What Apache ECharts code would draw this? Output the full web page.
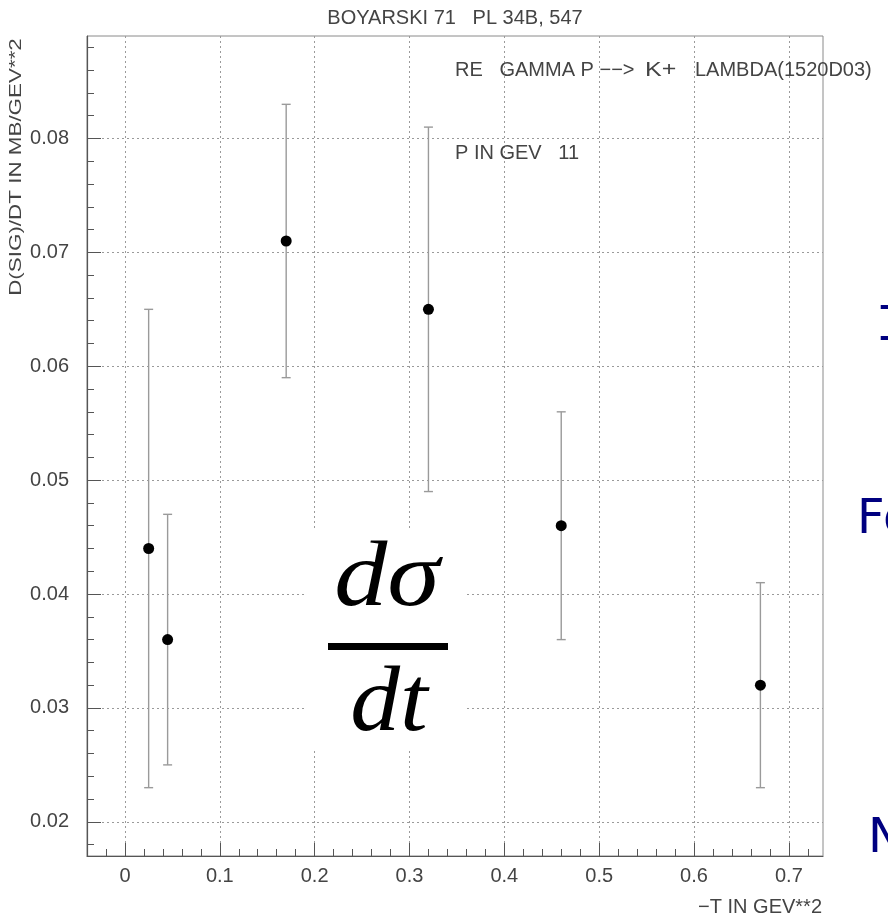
<!DOCTYPE html>
<html>
<head>
<meta charset="utf-8">
<script src="https://cdn.jsdelivr.net/npm/echarts@6/dist/echarts.min.js"></script>
<style>
  html, body { margin: 0; padding: 0; background: #fff; }
  #chart { width: 888px; height: 922px; }
</style>
</head>
<body>
<div id="chart"></div>
<script>
// Measured points: -t (GeV^2), dsigma/dt (mb/GeV^2) and its error
const tValues = [0.025, 0.045, 0.17, 0.32, 0.46, 0.67];
const dsdt    = [0.044, 0.036, 0.071, 0.065, 0.046, 0.032];
const dsdtErr = [0.021, 0.011, 0.012, 0.016, 0.010, 0.009];

// Labelled ticks
const xTickLabels = [0, 0.1, 0.2, 0.3, 0.4, 0.5, 0.6, 0.7];
const yTickLabels = [0.02, 0.03, 0.04, 0.05, 0.06, 0.07, 0.08];

const X_MIN = -0.04, X_MAX = 0.736;
const Y_MIN = 0.017, Y_MAX = 0.089;

// Small ticks between the labelled ones
const xMinor = [];
for (let i = -2; i <= 36; i++) xMinor.push(+(i * 0.02).toFixed(3));
const yMinor = [];
for (let i = 9; i <= 44; i++) yMinor.push(+(i * 0.002).toFixed(3));

const AXIS_FONT = '"Liberation Sans", Arial, sans-serif';
const TEXT_COLOR = '#444';

const points = tValues.map((t, i) => [t, dsdt[i]]);
const bars = tValues.map((t, i) => [t, +(dsdt[i] - dsdtErr[i]).toFixed(4), +(dsdt[i] + dsdtErr[i]).toFixed(4)]);

const fmt = v => (Math.abs(v) < 1e-9 ? '0' : String(+v.toFixed(3)));

function label(text, x, y, size, align, extra) {
  return Object.assign({
    type: 'text', x: x, y: y, z: 5,
    style: {
      text: text, fill: TEXT_COLOR,
      font: size + 'px ' + AXIS_FONT,
      textAlign: align, textVerticalAlign: 'middle'
    }
  }, extra || {});
}

const chart = echarts.init(document.getElementById('chart'), null, { renderer: 'canvas' });

chart.setOption({
  animation: false,
  backgroundColor: '#fff',
  grid: {
    left: 87, right: 65, top: 36, bottom: 66,
    show: true, borderColor: '#8a8a8a', borderWidth: 1, backgroundColor: 'transparent'
  },
  xAxis: [
    {
      type: 'value', min: X_MIN, max: X_MAX, position: 'bottom',
      axisLine: { show: true, onZero: false, lineStyle: { color: '#555', width: 1.2 } },
      axisTick: { show: true, inside: true, length: 13, customValues: xTickLabels, lineStyle: { color: '#555' } },
      axisLabel: {
        show: true, customValues: xTickLabels, margin: 10, formatter: fmt,
        color: TEXT_COLOR, fontSize: 20, fontFamily: AXIS_FONT
      },
      splitLine: { show: true, lineStyle: { color: '#9a9a9a', type: [2, 3], width: 1 } }
    },
    {
      type: 'value', min: X_MIN, max: X_MAX, position: 'bottom', offset: 0,
      axisLine: { show: false, onZero: false },
      axisTick: { show: true, inside: true, length: 7, customValues: xMinor, lineStyle: { color: '#555' } },
      axisLabel: { show: false },
      splitLine: { show: false }
    }
  ],
  yAxis: [
    {
      type: 'value', min: Y_MIN, max: Y_MAX, position: 'left',
      axisLine: { show: true, onZero: false, lineStyle: { color: '#555', width: 1.2 } },
      axisTick: { show: true, inside: true, length: 14, customValues: yTickLabels, lineStyle: { color: '#555' } },
      axisLabel: {
        show: true, customValues: yTickLabels, margin: 18, formatter: fmt,
        color: TEXT_COLOR, fontSize: 20, fontFamily: AXIS_FONT
      },
      splitLine: { show: true, lineStyle: { color: '#9a9a9a', type: [2, 3], width: 1 } }
    },
    {
      type: 'value', min: Y_MIN, max: Y_MAX, position: 'left', offset: 0,
      axisLine: { show: false, onZero: false },
      axisTick: { show: true, inside: true, length: 7, customValues: yMinor, lineStyle: { color: '#555' } },
      axisLabel: { show: false },
      splitLine: { show: false }
    }
  ],
  series: [
    {
      name: 'error',
      type: 'custom',
      xAxisIndex: 0, yAxisIndex: 0,
      data: bars,
      encode: { x: 0, y: [1, 2] },
      z: 3,
      renderItem: function (params, api) {
        const top = api.coord([api.value(0), api.value(2)]);
        const bot = api.coord([api.value(0), api.value(1)]);
        const cap = 4.5;
        const style = { stroke: '#9a9a9a', lineWidth: 1.4 };
        return {
          type: 'group',
          children: [
            { type: 'line', shape: { x1: top[0], y1: top[1], x2: bot[0], y2: bot[1] }, style: style },
            { type: 'line', shape: { x1: top[0] - cap, y1: top[1], x2: top[0] + cap, y2: top[1] }, style: style },
            { type: 'line', shape: { x1: bot[0] - cap, y1: bot[1], x2: bot[0] + cap, y2: bot[1] }, style: style }
          ]
        };
      }
    },
    {
      name: 'dsig/dt',
      type: 'scatter',
      xAxisIndex: 0, yAxisIndex: 0,
      data: points,
      symbol: 'circle',
      symbolSize: 11,
      z: 4,
      itemStyle: { color: '#000', opacity: 1 }
    }
  ],
  graphic: [
    label('BOYARSKI 71   PL 34B, 547', 455, 18, 20, 'center'),
    label('RE   GAMMA P \u2212\u2212>', 455, 70, 20, 'left'),
    label('K+', 645, 70, 20, 'left', { scaleX: 1.25 }),
    label('LAMBDA(1520D03)', 695, 70, 20, 'left'),
    label('P IN GEV   11', 455, 153, 20, 'left'),
    label('\u2212T IN GEV**2', 822, 907, 20, 'right'),
    label('D(SIG)/DT IN MB/GEV**2', 17, 167, 16, 'center', { rotation: Math.PI / 2, scaleX: 1.4 }),
    // inset formula on a white patch
    {
      type: 'rect', z: 10,
      shape: { x: 306, y: 530, width: 158, height: 218 },
      style: { fill: '#fff' }
    },
    {
      type: 'text', x: 387, y: 580, z: 11, scaleX: 1.13,
      style: {
        text: 'd\u03c3', fill: '#000',
        font: 'italic 94px "Liberation Serif", "DejaVu Serif", serif',
        textAlign: 'center', textVerticalAlign: 'middle'
      }
    },
    {
      type: 'rect', z: 11,
      shape: { x: 328, y: 643, width: 120, height: 7 },
      style: { fill: '#000' }
    },
    {
      type: 'text', x: 389, y: 705, z: 11, scaleX: 1.06,
      style: {
        text: 'dt', fill: '#000',
        font: 'italic 94px "Liberation Serif", "DejaVu Serif", serif',
        textAlign: 'center', textVerticalAlign: 'middle'
      }
    },
    // slide text running off the right edge
    {
      type: 'text', x: 876, y: 328, z: 5,
      style: {
        text: 'I', fill: '#000080',
        font: '48px "DejaVu Sans Mono", monospace',
        textAlign: 'left', textVerticalAlign: 'middle'
      }
    },
    {
      type: 'text', x: 857, y: 521, z: 5,
      style: {
        text: 'Fo', fill: '#000080',
        font: '48px "DejaVu Sans", sans-serif',
        textAlign: 'left', textVerticalAlign: 'middle'
      }
    },
    {
      type: 'text', x: 868, y: 840, z: 5,
      style: {
        text: 'N', fill: '#000080',
        font: '48px "DejaVu Sans", sans-serif',
        textAlign: 'left', textVerticalAlign: 'middle'
      }
    }
  ]
});
</script>
</body>
</html>
